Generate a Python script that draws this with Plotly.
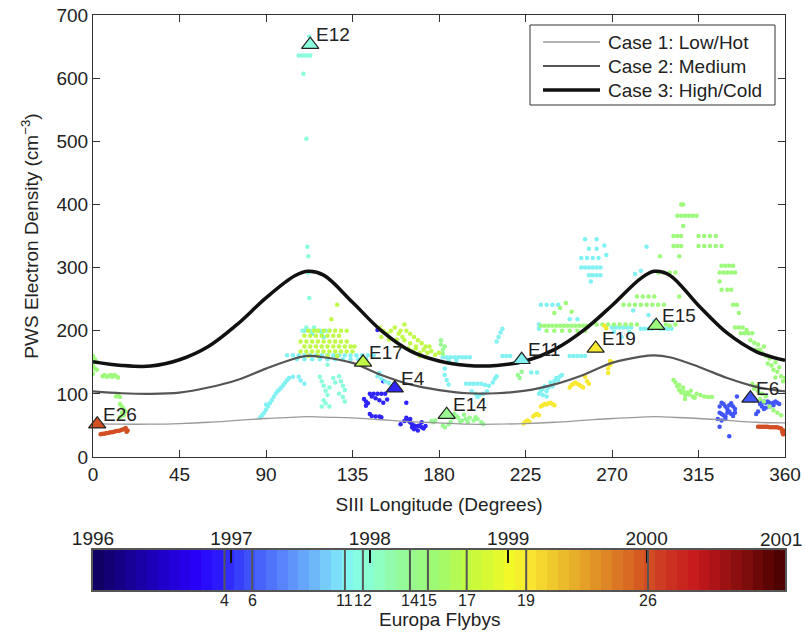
import plotly.graph_objects as go

# ---------------- data ----------------
model_lon = [0, 15, 30, 45, 60, 75, 90, 105, 112, 120, 135, 150, 165, 180, 195, 210, 225, 240, 255, 270, 285, 292, 300, 315, 330, 345, 360]
case1 = [53, 52, 52, 53, 55, 58, 61, 63, 64, 63, 62, 59, 56, 54, 52, 52, 53, 55, 58, 61, 63, 64, 63, 61, 58, 55, 54]
case2 = [104, 101, 100, 102, 110, 122, 140, 156, 160, 158, 149, 130, 115, 106, 101, 101, 105, 115, 130, 149, 159, 161, 158, 143, 125, 111, 104]
case3 = [151, 145, 144, 154, 175, 210, 252, 287, 294, 288, 245, 200, 168, 152, 145, 145, 152, 170, 200, 240, 283, 294, 288, 240, 196, 167, 153]
case_names = ["Case 1: Low/Hot", "Case 2: Medium", "Case 3: High/Cold"]

flyby_names = ["E4", "E6", "E11", "E12", "E14", "E15", "E17", "E19", "E26"]
flyby_numbers = ["4", "6", "11", "12", "14", "15", "17", "19", "26"]
flyby_dates = [1996.95, 1997.15, 1997.82, 1997.95, 1998.29, 1998.42, 1998.70, 1999.13, 2000.01]
flyby_lon = [157, 342, 223, 113, 184, 293, 140.5, 261.5, 2.2]
flyby_dens = [109, 93, 154, 653, 67, 208, 150, 172, 52]

years = [1996, 1997, 1998, 1999, 2000, 2001]

E4_points = [(148, 201), (151, 120), (144, 100), (146, 100), (148, 100), (150, 100), (152, 100),
             (141, 92), (142, 88), (143, 85), (142, 81), (145, 96), (147, 93), (149, 90), (151, 86),
             (153, 91), (163, 86), (144, 68), (145, 65), (147, 64), (149, 64), (150, 63), (163, 62),
             (164, 58), (165, 55), (166, 52), (167, 50), (168, 48), (169, 49), (170, 50), (171, 47),
             (172, 45), (173, 49), (167, 44), (169, 42), (171, 55), (165, 60), (166, 47), (160, 52), (162, 57)]

E6_points = [(326, 80), (327, 86), (328, 84), (329, 80), (330, 76), (331, 82), (332, 85), (333, 80), (334, 76),
             (326, 70), (327, 68), (328, 66), (329, 64), (330, 70), (331, 72), (332, 68), (333, 65), (334, 70),
             (325, 60), (327, 58), (329, 60), (326, 48), (331, 33), (335, 96),
             (347, 84), (348, 86), (349, 88), (350, 86), (351, 88), (352, 86), (353, 84), (354, 86), (355, 88),
             (356, 86), (357, 84), (348, 80), (350, 78), (346, 72), (345, 68), (349, 76), (352, 80), (354, 82)]

E11_points = [(87, 63), (88, 66), (89, 70), (90, 75), (91, 80), (90, 83), (92, 85), (93, 90), (94, 95), (95, 100),
              (96, 104), (97, 107), (98, 110), (99, 114), (100, 118), (101, 122), (102, 125), (104, 127), (107, 127),
              (110, 116), (108, 121),
              (101, 161), (104, 161), (107, 161), (110, 161), (113, 161), (116, 161), (119, 161), (122, 161),
              (125, 161), (128, 161), (131, 161), (134, 161), (137, 161), (140, 161), (143, 161), (146, 161),
              (106, 155), (110, 155), (114, 155), (118, 155), (122, 155), (126, 155), (130, 155), (134, 155),
              (138, 155), (142, 155),
              (110, 200), (114, 195), (118, 200), (120, 190),
              (148, 128), (150, 124), (152, 120), (154, 117), (156, 113), (149, 133),
              (182, 158), (184, 158), (186, 158), (188, 158), (190, 158), (192, 158), (194, 158), (196, 158),
              (185, 153), (189, 153), (183, 140), (183, 130), (184, 122), (185, 115),
              (194, 116), (196, 116), (198, 116), (200, 116), (202, 116), (204, 114), (206, 113), (208, 118),
              (209, 124), (210, 128),
              (197, 104), (199, 100), (201, 98), (203, 100), (205, 104), (200, 95),
              (210, 183), (211, 190), (212, 197), (213, 203), (213, 160), (215, 160), (217, 160),
              (228, 134), (231, 134),
              (232, 100), (233, 105), (234, 108), (235, 112), (236, 104), (237, 110), (238, 118), (239, 112),
              (240, 120), (241, 125), (242, 122), (243, 128), (244, 130), (236, 96), (234, 98),
              (233, 241), (236, 241), (239, 241), (242, 241), (232, 210), (232, 203),
              (248, 160), (250, 160), (252, 160), (254, 160), (256, 160), (248, 218), (252, 218),
              (256, 345), (262, 345), (258, 330), (262, 330), (254, 315), (257, 315), (260, 315), (263, 315),
              (254, 300), (256, 300), (258, 300), (260, 300), (262, 300), (264, 300), (258, 288), (260, 288),
              (262, 288), (264, 288), (259, 278), (266, 335), (267, 320),
              (270, 205), (272, 205), (274, 205), (276, 205), (278, 205), (280, 205), (271, 198), (275, 190),
              (279, 198),
              (285, 203), (287, 203), (289, 203), (291, 203), (295, 203), (297, 203), (299, 203), (301, 203),
              (288, 333), (285, 295), (282, 290), (289, 225), (292, 215), (281, 232)]

E12_points = [(112.5, 666), (107, 636), (108.5, 636), (110, 636), (111.5, 636), (113, 636), (109.5, 607),
              (111, 504), (111.5, 333), (112, 318), (112, 292), (112.5, 252),
              (109, 200), (111, 205), (113, 200), (115, 205), (117, 200), (119, 195), (121, 200), (123, 200),
              (118, 127), (119, 120), (120, 113), (121, 105), (122, 98), (120, 90), (121, 85), (119, 80),
              (123, 110), (125, 125), (128, 128), (129, 120), (130, 113), (131, 106), (128, 100), (130, 95),
              (131, 88), (123, 80), (126, 118), (122, 146)]

E14_points = [(177, 55), (178, 58), (186, 55), (187, 62), (188, 68), (189, 65), (190, 62), (191, 56), (192, 58),
              (193, 67), (194, 60), (195, 55), (196, 62), (198, 58), (199, 63), (200, 60), (202, 55), (203, 52),
              (176, 57), (182, 50), (183, 47), (185, 52), (181, 185), (181, 178), (182, 170), (182, 163),
              (183, 175), (221, 130), (222, 125), (223, 135)]

E15_points = [(233, 208), (235, 208), (237, 208), (239, 208), (241, 208), (243, 208), (245, 208), (247, 208),
              (249, 208), (251, 208), (253, 208), (255, 208), (257, 208),
              (236, 200), (240, 200), (244, 200), (248, 200), (252, 200), (256, 200),
              (240, 228), (243, 236), (246, 244), (249, 230),
              (262, 210), (265, 210), (268, 210), (271, 210), (274, 210), (277, 210), (280, 210), (283, 210),
              (298, 210), (300, 208), (303, 210),
              (276, 241), (279, 241), (282, 241), (285, 241), (288, 241), (291, 241), (294, 241), (297, 241),
              (283, 254), (286, 254), (289, 254), (292, 254), (305, 254),
              (294, 292), (297, 292), (300, 292), (303, 292), (295, 318), (305, 318),
              (306, 400), (307, 400), (304, 382), (306, 382), (308, 382), (310, 382), (312, 382), (314, 382),
              (307, 366), (302, 350), (304, 350), (306, 350), (315, 350), (318, 350), (321, 350), (324, 350),
              (302, 334), (304, 334), (306, 334), (315, 334), (318, 334), (321, 334), (324, 334), (327, 334),
              (327, 303), (329, 303), (331, 303), (333, 303), (326, 292), (328, 292), (330, 292), (332, 292),
              (334, 292), (326, 278), (327, 265), (330, 265), (332, 265),
              (333, 241), (335, 241), (336, 228), (334, 205), (336, 205), (338, 205), (340, 201), (337, 196),
              (339, 196), (341, 196), (343, 196), (342, 185), (344, 181), (346, 178), (345, 170), (347, 170),
              (348, 165), (350, 160), (352, 156), (351, 148), (353, 145), (355, 150), (354, 138), (356, 135),
              (357, 142), (358, 128), (359, 120), (360, 125), (355, 126), (349, 175),
              (344, 108), (346, 104), (348, 100), (350, 96), (352, 80), (354, 74), (356, 70), (358, 66),
              (349, 88), (347, 92), (345, 112), (343, 116),
              (302, 122), (303, 118), (304, 112), (305, 106), (306, 102), (307, 104), (308, 98), (309, 102),
              (310, 99), (312, 96), (314, 100), (316, 98), (318, 96), (320, 95), (322, 95), (305, 114),
              (307, 110), (311, 105), (308, 92), (313, 94),
              (0, 160), (1, 155), (2, 150), (0, 145), (1, 140), (2, 138), (0, 132), (5, 128), (6, 130),
              (7, 127), (8, 128), (9, 130), (10, 127), (11, 130), (12, 128), (13, 126), (12, 96), (13, 98),
              (14, 95), (14, 84), (15, 80), (16, 76), (17, 72), (15, 70), (16, 66), (14, 63)]

E17_points = [(124, 218), (127, 241), (136, 175),
              (112, 200), (115, 200), (117, 200), (120, 200), (123, 200), (126, 200), (129, 200), (132, 200),
              (110, 192), (113, 192), (116, 192), (119, 192), (122, 192), (125, 192), (128, 192),
              (108, 183), (111, 183), (114, 183), (117, 183), (120, 183), (123, 183), (126, 183), (129, 183),
              (132, 183),
              (110, 175), (113, 175), (116, 175), (119, 175), (122, 175), (125, 175), (128, 175), (131, 175),
              (134, 175),
              (108, 167), (111, 167), (114, 167), (117, 167), (120, 167), (123, 167), (126, 167), (129, 167),
              (132, 167), (135, 167),
              (112, 160), (117, 160), (122, 160), (127, 160),
              (149, 205), (151, 200), (153, 195), (155, 200), (157, 205), (159, 195), (161, 190), (150, 190),
              (154, 186), (158, 186), (160, 200),
              (164, 172), (166, 168), (168, 172), (170, 165), (172, 170), (174, 165), (176, 168), (178, 162),
              (180, 165), (175, 175),
              (162, 210), (163, 200), (165, 195), (167, 190), (169, 185), (171, 180), (173, 175), (162, 185),
              (165, 180), (168, 175), (170, 160), (173, 158), (160, 175)]

E19_points = [(224, 53), (225, 56), (226, 58), (227, 56), (229, 64), (230, 67), (231, 68), (232, 66), (233, 80),
              (234, 82), (235, 84), (236, 83), (237, 85), (238, 86), (239, 84), (240, 82), (248, 110), (249, 114),
              (250, 116), (251, 118), (252, 116), (253, 114), (254, 112), (255, 110), (256, 127), (257, 120),
              (258, 116), (268, 133), (268, 140), (269, 146), (269, 152), (270, 150), (266, 208), (267, 204)]

E26_points = [(4, 36), (5, 37), (6, 37), (7, 38), (8, 38), (9, 39), (10, 39), (11, 40), (12, 41), (13, 41),
              (14, 42), (15, 43), (16, 44), (17, 46), (18, 42), (17.5, 40),
              (346, 48), (347, 48), (348, 48), (349, 48), (350, 48), (351, 48), (352, 47), (353, 47), (354, 47),
              (355, 47), (356, 47), (357, 46), (358, 45), (359, 42), (360, 38), (359, 36), (358.5, 40)]

flyby_points = [E4_points, E6_points, E11_points, E12_points, E14_points, E15_points,
                E17_points, E19_points, E26_points]

# ---------------- style / layout geometry ----------------
FONT = "Liberation Sans, Arial, Helvetica, sans-serif"
W, H = 805, 634
ML, MR, MT, MB = 93, 20, 15, 44
PW, PH = W - ML - MR, H - MT - MB


def px_x(p):
    return (p - ML) / PW


def px_y(p):
    return (H - MB - p) / PH


CMIN, CMAX = years[0], years[-1]
colorscale = [
    [0.00, "rgb(15,0,90)"],
    [0.10, "rgb(30,0,200)"],
    [0.15, "rgb(40,0,250)"],
    [0.185, "rgb(45,30,255)"],
    [0.22, "rgb(60,75,250)"],
    [0.30, "rgb(100,160,250)"],
    [0.35, "rgb(125,220,250)"],
    [0.37, "rgb(130,250,240)"],
    [0.40, "rgb(140,255,210)"],
    [0.45, "rgb(150,250,150)"],
    [0.50, "rgb(160,250,110)"],
    [0.55, "rgb(200,250,60)"],
    [0.60, "rgb(240,250,40)"],
    [0.63, "rgb(250,230,50)"],
    [0.70, "rgb(230,170,40)"],
    [0.78, "rgb(215,100,35)"],
    [0.82, "rgb(205,60,35)"],
    [0.87, "rgb(200,25,30)"],
    [0.93, "rgb(140,15,15)"],
    [1.00, "rgb(70,0,0)"],
]
case_styles = [("#9a9a9a", 1.3), ("#555555", 2.2), ("#111111", 3.5)]

fig = go.Figure()

# scatter points per flyby
for name, date, pts in zip(flyby_names, flyby_dates, flyby_points):
    fig.add_trace(go.Scatter(
        x=[p[0] for p in pts], y=[p[1] for p in pts], mode="markers",
        marker=dict(size=4.5, color=[date] * len(pts), colorscale=colorscale,
                    cmin=CMIN, cmax=CMAX, line=dict(width=0)),
        showlegend=False, hoverinfo="skip", xaxis="x", yaxis="y"))

# model curves
for nm, vals, (col, wd) in zip(case_names, [case1, case2, case3], case_styles):
    fig.add_trace(go.Scatter(x=model_lon, y=vals, mode="lines", name=nm, showlegend=False,
                             line=dict(color=col, width=wd, shape="spline", smoothing=1.0),
                             xaxis="x", yaxis="y"))

# flyby triangles
fig.add_trace(go.Scatter(
    x=flyby_lon, y=flyby_dens, mode="markers",
    marker=dict(symbol="triangle-up", size=15, color=flyby_dates, colorscale=colorscale,
                cmin=CMIN, cmax=CMAX, line=dict(color="#222", width=1.2)),
    showlegend=False, cliponaxis=False, hoverinfo="skip", xaxis="x", yaxis="y"))

annotations = []
for name, lx, ly in zip(flyby_names, flyby_lon, flyby_dens):
    annotations.append(dict(x=lx, y=ly, xref="x", yref="y", text=name, showarrow=False,
                            xanchor="left", yanchor="middle", xshift=4, yshift=10,
                            font=dict(size=19, family=FONT, color="#222")))

# colour bar as heatmap on its own axes
nb = 64
edges = [CMIN + (CMAX - CMIN) * i / nb for i in range(nb + 1)]
centers = [(edges[i] + edges[i + 1]) / 2 for i in range(nb)]
fig.add_trace(go.Heatmap(x=edges, y=[0, 1], z=[centers], colorscale=colorscale,
                         zmin=CMIN, zmax=CMAX, showscale=False, hoverinfo="skip",
                         xaxis="x2", yaxis="y2"))
# invisible trace to activate the top year axis
fig.add_trace(go.Scatter(x=years, y=[0.5] * len(years), mode="markers",
                         marker=dict(opacity=0), showlegend=False, hoverinfo="skip",
                         xaxis="x3", yaxis="y2"))

shapes = []
for d, num in zip(flyby_dates, flyby_numbers):
    shapes.append(dict(type="line", xref="x2", yref="y2 domain", x0=d, x1=d, y0=0, y1=1,
                       line=dict(color="#555", width=2), layer="above"))
    annotations.append(dict(x=d, y=0, xref="x2", yref="y2 domain", text=num, showarrow=False,
                            xanchor="center", yanchor="top", yshift=0,
                            font=dict(size=16, family=FONT, color="#222")))
annotations.append(dict(x=0.5, y=px_y(619), xref="paper", yref="paper", text="Europa Flybys",
                        showarrow=False, xanchor="center", yanchor="middle",
                        font=dict(size=19, family=FONT, color="#222")))
# last year label kept inside the page (right-aligned)
annotations.append(dict(x=years[-1], y=1, xref="x2", yref="y2 domain", text=str(years[-1]),
                        showarrow=False, xanchor="right", yanchor="middle", xshift=19, yshift=11,
                        font=dict(size=19, family=FONT, color="#222")))

# manual legend (box, line samples, labels)
shapes.append(dict(type="rect", xref="paper", yref="paper", x0=px_x(530), x1=px_x(775),
                   y0=px_y(105), y1=px_y(25), line=dict(color="#333", width=1),
                   fillcolor="white", layer="above"))
for i, (nm, (col, wd)) in enumerate(zip(case_names, case_styles)):
    ry = px_y(42 + 24 * i)
    shapes.append(dict(type="line", xref="paper", yref="paper", x0=px_x(543), x1=px_x(600),
                       y0=ry, y1=ry, line=dict(color=col, width=wd), layer="above"))
    annotations.append(dict(x=px_x(606), y=ry, xref="paper", yref="paper", text=nm,
                            showarrow=False, xanchor="left", yanchor="middle",
                            font=dict(size=19, family=FONT, color="#222")))

main_ydom = [px_y(457), 1.0]
cb_ydom = [0.0, px_y(550)]

axis_common = dict(showline=True, linecolor="#333", linewidth=1, showgrid=False, zeroline=False,
                   automargin=False, ticklabeloverflow="allow",
                   tickfont=dict(size=19, family=FONT, color="#222"), tickcolor="#333")

fig.update_layout(
    width=W, height=H, margin=dict(l=ML, r=MR, t=MT, b=MB, autoexpand=False),
    paper_bgcolor="white", plot_bgcolor="white", showlegend=False,
    font=dict(family=FONT, size=19, color="#222"),
    xaxis=dict(domain=[0, 1], range=[0, 360], tickvals=[0, 45, 90, 135, 180, 225, 270, 315, 360],
               ticks="inside", ticklen=7, mirror="ticks", anchor="y",
               title=dict(text="SIII Longitude (Degrees)", font=dict(size=19), standoff=13),
               **axis_common),
    yaxis=dict(domain=main_ydom, range=[0, 700], tickvals=[0, 100, 200, 300, 400, 500, 600, 700],
               ticks="inside", ticklen=7, mirror="ticks", anchor="x",
               title=dict(text="PWS Electron Density (cm<sup>−3</sup>)", font=dict(size=19), standoff=12),
               **axis_common),
    xaxis2=dict(domain=[0, 1], range=[CMIN, CMAX], anchor="y2", showticklabels=False, ticks="",
                mirror=True, automargin=False,
                showline=True, linecolor="#555", linewidth=1.5, showgrid=False, zeroline=False),
    xaxis3=dict(overlaying="x2", side="top", anchor="y2", range=[CMIN, CMAX], tickvals=years[:-1],
                ticktext=[str(y) for y in years[:-1]], ticks="inside", ticklen=13, tickwidth=2,
                tickcolor="#111", tickangle=0, showline=False, showgrid=False, zeroline=False,
                automargin=False, ticklabeloverflow="allow",
                tickfont=dict(size=19, family=FONT, color="#222")),
    yaxis2=dict(domain=cb_ydom, range=[0, 1], anchor="x2", showticklabels=False, ticks="",
                showline=True, mirror=True, linecolor="#555", linewidth=1.5, automargin=False,
                showgrid=False, zeroline=False),
    annotations=annotations,
    shapes=shapes,
)

fig.write_html("out.html", config={"displayModeBar": False},
               post_script="document.body.style.margin='0px';document.body.style.overflow='hidden';")
